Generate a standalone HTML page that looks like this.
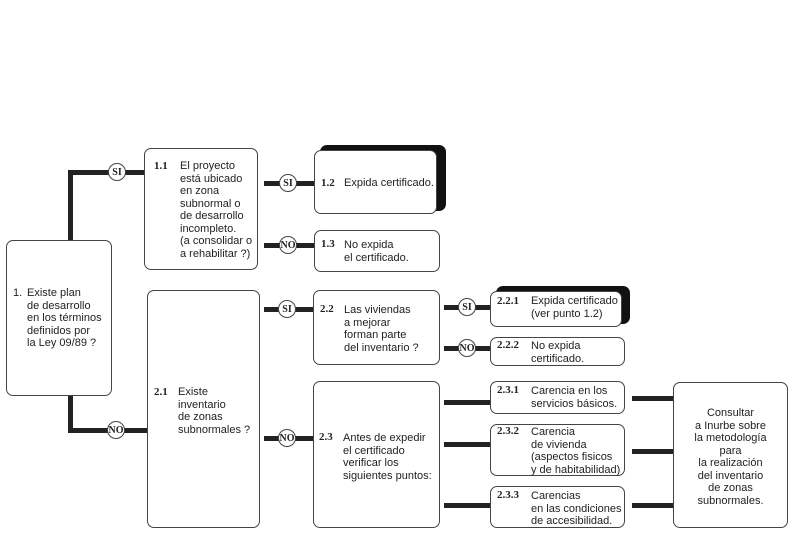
<!DOCTYPE html><html><head><style>
body{margin:0;width:799px;height:533px;background:#fff;position:relative;overflow:hidden;font-family:"Liberation Sans",sans-serif;color:#222}
.b{position:absolute;border:1.5px solid #444;border-radius:7px;background:#fff;box-sizing:border-box;font-size:11px;line-height:12.5px}
.s{position:absolute;background:#111;border-radius:7px}
.l{position:absolute;background:#222}
.c{position:absolute;width:18px;height:18px;border:1.5px solid #444;border-radius:50%;background:#fff;font:bold 10px "Liberation Serif",serif;text-align:center;line-height:18px;box-sizing:border-box}
.n{font-family:"Liberation Serif",serif;font-weight:bold;position:absolute}
.t{position:absolute;white-space:nowrap}
</style></head><body>
<div class="l" style="left:68px;top:170px;width:5px;height:70px"></div>
<div class="l" style="left:68px;top:170px;width:76px;height:5px"></div>
<div class="l" style="left:68px;top:396px;width:5px;height:36px"></div>
<div class="l" style="left:68px;top:428px;width:79px;height:5px"></div>
<div class="l" style="left:264px;top:181px;width:50px;height:5px"></div>
<div class="l" style="left:264px;top:243px;width:50px;height:5px"></div>
<div class="l" style="left:264px;top:307px;width:49px;height:5px"></div>
<div class="l" style="left:264px;top:436px;width:49px;height:5px"></div>
<div class="l" style="left:444px;top:305px;width:46px;height:5px"></div>
<div class="l" style="left:444px;top:346px;width:46px;height:5px"></div>
<div class="l" style="left:444px;top:400px;width:46px;height:5px"></div>
<div class="l" style="left:444px;top:442px;width:46px;height:5px"></div>
<div class="l" style="left:444px;top:503px;width:46px;height:5px"></div>
<div class="l" style="left:632px;top:396px;width:41px;height:5px"></div>
<div class="l" style="left:632px;top:449px;width:41px;height:5px"></div>
<div class="l" style="left:632px;top:503px;width:41px;height:5px"></div>
<div class="c" style="left:108px;top:163px">SI</div>
<div class="c" style="left:107px;top:421px">NO</div>
<div class="c" style="left:279px;top:174px">SI</div>
<div class="c" style="left:279px;top:236px">NO</div>
<div class="c" style="left:278px;top:300px">SI</div>
<div class="c" style="left:278px;top:429px">NO</div>
<div class="c" style="left:458px;top:298px">SI</div>
<div class="c" style="left:458px;top:339px">NO</div>
<div class="s" style="left:320px;top:145px;width:126px;height:66px"></div>
<div class="s" style="left:496px;top:286px;width:134px;height:38px"></div>
<div class="b" style="left:6px;top:240px;width:106px;height:156px"><span class="t" style="left:6px;top:46px">1.</span><span class="t" style="left:20px;top:46px">Existe plan<br>de desarrollo<br>en los términos<br>definidos por<br>la Ley 09/89 ?</span></div>
<div class="b" style="left:144px;top:148px;width:114px;height:122px"><span class="n" style="left:9px;top:11px">1.1</span><span class="t" style="left:35px;top:11px">El proyecto<br>está ubicado<br>en zona<br>subnormal o<br>de desarrollo<br>incompleto.<br>(a consolidar o<br>a rehabilitar ?)</span></div>
<div class="b" style="left:314px;top:150px;width:123px;height:64px"><span class="n" style="left:6px;top:26px">1.2</span><span class="t" style="left:29px;top:26px">Expida certificado.</span></div>
<div class="b" style="left:314px;top:230px;width:126px;height:42px"><span class="n" style="left:6px;top:7px">1.3</span><span class="t" style="left:29px;top:8px">No expida<br>el certificado.</span></div>
<div class="b" style="left:147px;top:290px;width:113px;height:238px"><span class="n" style="left:6px;top:95px">2.1</span><span class="t" style="left:30px;top:95px">Existe<br>inventario<br>de zonas<br>subnormales ?</span></div>
<div class="b" style="left:313px;top:290px;width:127px;height:75px"><span class="n" style="left:6px;top:12px">2.2</span><span class="t" style="left:30px;top:13px">Las viviendas<br>a mejorar<br>forman parte<br>del inventario ?</span></div>
<div class="b" style="left:490px;top:291px;width:132px;height:36px"><span class="n" style="left:6px;top:3px">2.2.1</span><span class="t" style="left:40px;top:3px">Expida certificado<br>(ver punto 1.2)</span></div>
<div class="b" style="left:490px;top:337px;width:135px;height:29px"><span class="n" style="left:6px;top:1px">2.2.2</span><span class="t" style="left:40px;top:2px">No expida<br>certificado.</span></div>
<div class="b" style="left:313px;top:381px;width:127px;height:147px"><span class="n" style="left:5px;top:49px">2.3</span><span class="t" style="left:29px;top:50px">Antes de expedir<br>el certificado<br>verificar los<br>siguientes puntos:</span></div>
<div class="b" style="left:490px;top:381px;width:135px;height:33px"><span class="n" style="left:6px;top:2px">2.3.1</span><span class="t" style="left:40px;top:3px">Carencia en los<br>servicios básicos.</span></div>
<div class="b" style="left:490px;top:424px;width:135px;height:52px"><span class="n" style="left:6px;top:0px">2.3.2</span><span class="t" style="left:40px;top:1px">Carencia<br>de vivienda<br>(aspectos fisicos<br>y de habitabilidad)</span></div>
<div class="b" style="left:490px;top:486px;width:135px;height:42px"><span class="n" style="left:6px;top:2px">2.3.3</span><span class="t" style="left:40px;top:3px">Carencias<br>en las condiciones<br>de accesibilidad.</span></div>
<div class="b" style="left:673px;top:382px;width:115px;height:146px;text-align:center"><div style="padding-top:24px">Consultar<br>a Inurbe sobre<br>la metodología<br>para<br>la realización<br>del inventario<br>de zonas<br>subnormales.</div></div>
</body></html>
